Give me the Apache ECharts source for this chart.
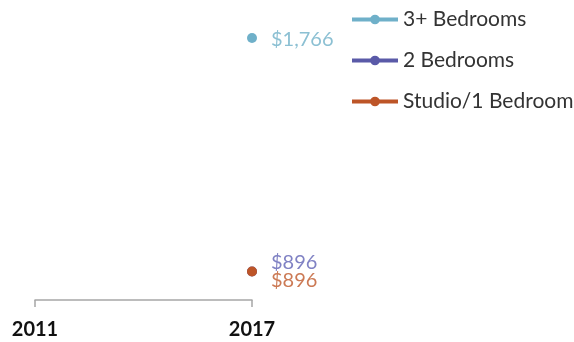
<!DOCTYPE html>
<html><head><meta charset="utf-8">
<script src="https://cdn.jsdelivr.net/npm/echarts@6/dist/echarts.min.js"></script>
<style>html,body{margin:0;padding:0;background:#fff}#c{width:574px;height:342px}</style>
</head><body><div id="c"></div>
<script>
const categories = ['2011', '2017'];
const seriesNames = ['3+ Bedrooms', '2 Bedrooms', 'Studio/1 Bedroom'];
const values3plus = [null, 1766];
const values2bed = [null, 896];
const valuesStudio = [null, 896];
const labels3plus = ['', '$1,766'];
const labels2bed = ['', '$896'];
const labelsStudio = ['', '$896'];

const colors = ['#6fb0c9', '#5a5aa8', '#bd5528'];
const labelColors = ['#8cc0d3', '#8082c4', '#cc7a55'];
const offsets = [[0, 2], [0, -9], [0, 9]];
const allValues = [values3plus, values2bed, valuesStudio];
const allLabels = [labels3plus, labels2bed, labelsStudio];

const chart = echarts.init(document.getElementById('c'));
chart.setOption({
  animation: false,
  grid: { left: 35, right: 322, top: 10, bottom: 42 },
  legend: {
    orient: 'vertical', left: 345, top: 4,
    itemWidth: 46, itemHeight: 12, itemGap: 20,
    lineStyle: { width: 4 },
    textStyle: { fontFamily: 'Lato', fontSize: 21, color: '#333' },
    data: seriesNames
  },
  xAxis: {
    type: 'category', data: categories, boundaryGap: false,
    axisLine: { lineStyle: { color: '#a6a6a6', width: 1.5 } },
    axisTick: { show: true, length: 7, lineStyle: { color: '#a6a6a6', width: 1.5 } },
    axisLabel: { fontFamily: 'Lato', fontWeight: 'bold', fontSize: 20, color: '#111', margin: 20 }
  },
  yAxis: { type: 'value', min: 790, max: 1870, show: false, splitLine: { show: false } },
  series: seriesNames.map((n, i) => ({
    name: n, type: 'line', data: allValues[i],
    symbol: 'circle', symbolSize: 10,
    itemStyle: { color: colors[i] },
    lineStyle: { width: 4, color: colors[i] },
    label: {
      show: true, position: 'right', distance: 14, offset: offsets[i],
      fontFamily: 'Lato', fontSize: 20, color: labelColors[i],
      formatter: p => allLabels[i][p.dataIndex]
    }
  }))
});
</script></body></html>
